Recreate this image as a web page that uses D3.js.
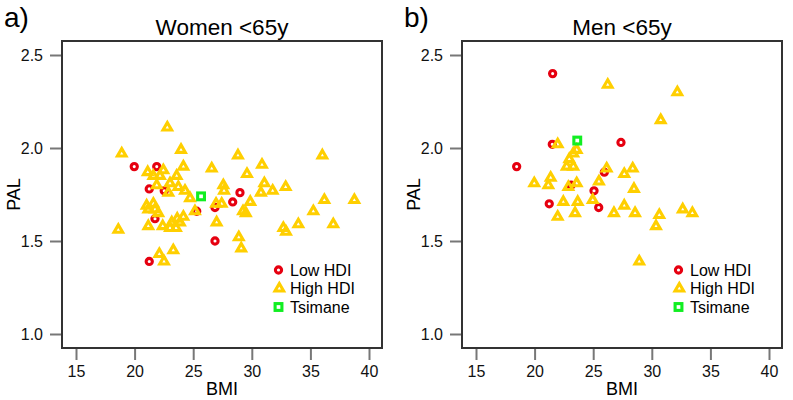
<!DOCTYPE html>
<html><head><meta charset="utf-8">
<script src="https://cdn.jsdelivr.net/npm/d3@7"></script>
<style>body{margin:0;background:#fff}svg{display:block;font-family:"Liberation Sans",Arial,sans-serif}</style>
</head><body><svg id="c" width="793" height="400"></svg>
<script>
const xTicks = [15, 20, 25, 30, 35, 40];
const yTicks = [1.0, 1.5, 2.0, 2.5];
const yTickLabels = ["1.0", "1.5", "2.0", "2.5"];
const legendLabels = ["Low HDI", "High HDI", "Tsimane"];

const womenLowBMI = [19.97, 21.89, 21.25, 22.53, 25.30, 26.86, 28.37, 28.99, 21.74, 26.86, 21.25];
const womenLowPAL = [1.90, 1.90, 1.78, 1.77, 1.66, 1.68, 1.71, 1.76, 1.62, 1.50, 1.39];
const womenHighBMI = [22.79, 18.90, 23.96, 28.82, 26.58, 29.59, 30.87, 21.12, 22.45, 24.16, 21.60, 22.17, 23.59, 21.89, 23.02, 23.73, 22.88, 24.30, 24.73, 27.57, 27.63, 26.95, 27.43, 29.87, 29.25, 29.49, 30.78, 21.03, 21.60, 21.17, 21.74, 22.02, 25.15, 24.16, 23.64, 23.17, 23.87, 22.40, 21.17, 23.02, 23.53, 18.61, 27.00, 28.89, 29.10, 23.30, 22.11, 22.51, 31.07, 31.78, 32.89, 36.02, 36.19, 38.75, 35.25, 32.69, 32.92, 33.97, 36.95];
const womenHighPAL = [2.11, 1.97, 1.99, 1.96, 1.89, 1.86, 1.91, 1.87, 1.88, 1.90, 1.85, 1.85, 1.85, 1.80, 1.81, 1.79, 1.76, 1.77, 1.73, 1.80, 1.77, 1.70, 1.70, 1.71, 1.66, 1.65, 1.76, 1.69, 1.70, 1.67, 1.67, 1.65, 1.66, 1.63, 1.62, 1.60, 1.60, 1.58, 1.58, 1.57, 1.57, 1.56, 1.60, 1.52, 1.46, 1.45, 1.43, 1.39, 1.81, 1.77, 1.79, 1.96, 1.72, 1.72, 1.66, 1.57, 1.55, 1.59, 1.59];
const womenTsiBMI = [25.67];
const womenTsiPAL = [1.74];

const menLowBMI = [21.54, 21.51, 27.37, 18.47, 25.95, 23.11, 25.07, 21.25, 25.47];
const menLowPAL = [2.40, 2.02, 2.03, 1.90, 1.87, 1.80, 1.77, 1.70, 1.68];
const menHighBMI = [26.24, 32.18, 30.76, 21.97, 23.59, 23.30, 22.96, 22.74, 23.30, 26.15, 27.65, 28.37, 19.97, 21.37, 21.17, 22.88, 23.59, 25.49, 28.48, 22.45, 23.68, 24.96, 21.97, 23.45, 27.65, 26.77, 28.57, 30.64, 30.36, 32.64, 33.46, 28.93];
const menHighPAL = [2.34, 2.30, 2.15, 2.02, 1.99, 1.97, 1.94, 1.90, 1.90, 1.89, 1.86, 1.89, 1.81, 1.84, 1.80, 1.79, 1.81, 1.82, 1.78, 1.71, 1.71, 1.72, 1.63, 1.65, 1.69, 1.65, 1.65, 1.64, 1.58, 1.67, 1.65, 1.39];
const menTsiBMI = [23.64];
const menTsiPAL = [2.04];

const RED = "#e60010", GOLD = "#ffcf00", GREEN = "#11ee22";
const svg = d3.select("#c");

function zip(a, b) { return a.map((v, i) => [v, b[i]]); }

const triPath = (s) => { const h = s * Math.sqrt(3) / 2; return `M0,${-2*h/3}L${s/2},${h/3}L${-s/2},${h/3}Z`; };
const SW = 3.1;

function panel(ox, letter, title, low, high, tsi) {
  const g = svg.append("g").attr("transform", `translate(${ox},0)`);
  const x = d3.scaleLinear().domain([15, 40]).range([76, 369]);
  const y = d3.scaleLinear().domain([1.0, 2.5]).range([334, 55]);
  const boxL = 62, boxR = 382, boxT = 41, boxB = 348;

  const xa = g.append("g").attr("transform", `translate(0,${boxB})`)
    .call(d3.axisBottom(x).tickValues(xTicks).tickSize(12).tickPadding(6).tickFormat(d3.format("d")));
  xa.select(".domain").remove();
  xa.selectAll("line").attr("stroke", "#777").attr("stroke-width", 2);
  xa.selectAll("text").attr("font-size", 16).attr("fill", "#111").attr("font-family", "Liberation Sans, Arial, sans-serif");

  const ya = g.append("g").attr("transform", `translate(${boxL},0)`)
    .call(d3.axisLeft(y).tickValues(yTicks).tickSize(12).tickPadding(7).tickFormat((d, i) => yTickLabels[i]));
  ya.select(".domain").remove();
  ya.selectAll("line").attr("stroke", "#777").attr("stroke-width", 2);
  ya.selectAll("text").attr("font-size", 16).attr("fill", "#111").attr("font-family", "Liberation Sans, Arial, sans-serif");

  g.append("rect").attr("x", boxL).attr("y", boxT).attr("width", boxR - boxL).attr("height", boxB - boxT)
    .attr("fill", "none").attr("stroke", "#333").attr("stroke-width", 2);

  g.append("text").attr("x", (boxL + boxR) / 2).attr("y", 35).attr("text-anchor", "middle")
    .attr("font-size", 22.5).attr("fill", "#000").text(title);
  g.append("text").attr("x", 4).attr("y", 27).attr("font-size", 28).attr("fill", "#000").text(letter);
  g.append("text").attr("x", (boxL + boxR) / 2).attr("y", 395).attr("text-anchor", "middle")
    .attr("font-size", 18).attr("fill", "#000").text("BMI");
  g.append("text").attr("transform", `translate(20,${(boxT + boxB) / 2}) rotate(-90)`).attr("text-anchor", "middle")
    .attr("font-size", 18).attr("fill", "#000").text("PAL");

  const pts = g.append("g");
  pts.selectAll("circle.low").data(low).join("circle").attr("class", "low")
    .attr("cx", d => x(d[0])).attr("cy", d => y(d[1])).attr("r", 3.1)
    .attr("fill", "none").attr("stroke", RED).attr("stroke-width", SW);
  pts.selectAll("path.high").data(high).join("path").attr("class", "high")
    .attr("transform", d => `translate(${x(d[0])},${y(d[1])})`).attr("d", triPath(8.6))
    .attr("fill", "none").attr("stroke", GOLD).attr("stroke-width", SW).attr("stroke-linejoin", "miter");
  pts.selectAll("rect.tsi").data(tsi).join("rect").attr("class", "tsi")
    .attr("x", d => x(d[0]) - 3.4).attr("y", d => y(d[1]) - 3.4).attr("width", 6.8).attr("height", 6.8)
    .attr("fill", "none").attr("stroke", GREEN).attr("stroke-width", SW);

  const lg = g.append("g");
  const ly = [270, 288.5, 307];
  lg.append("circle").attr("cx", 278.5).attr("cy", ly[0]).attr("r", 3.1).attr("fill", "none").attr("stroke", RED).attr("stroke-width", SW);
  lg.append("path").attr("transform", `translate(279.3,${ly[1]})`).attr("d", triPath(8.6)).attr("fill", "none").attr("stroke", GOLD).attr("stroke-width", SW);
  lg.append("rect").attr("x", 278.5 - 3.4).attr("y", ly[2] - 3.4).attr("width", 6.8).attr("height", 6.8).attr("fill", "none").attr("stroke", GREEN).attr("stroke-width", SW);
  legendLabels.forEach((t, i) => {
    lg.append("text").attr("x", 290).attr("y", ly[i] + 5.8).attr("font-size", 16).attr("fill", "#000").text(t);
  });
}

panel(0, "a)", "Women <65y", zip(womenLowBMI, womenLowPAL), zip(womenHighBMI, womenHighPAL), zip(womenTsiBMI, womenTsiPAL));
panel(400, "b)", "Men <65y", zip(menLowBMI, menLowPAL), zip(menHighBMI, menHighPAL), zip(menTsiBMI, menTsiPAL));
</script></body></html>
